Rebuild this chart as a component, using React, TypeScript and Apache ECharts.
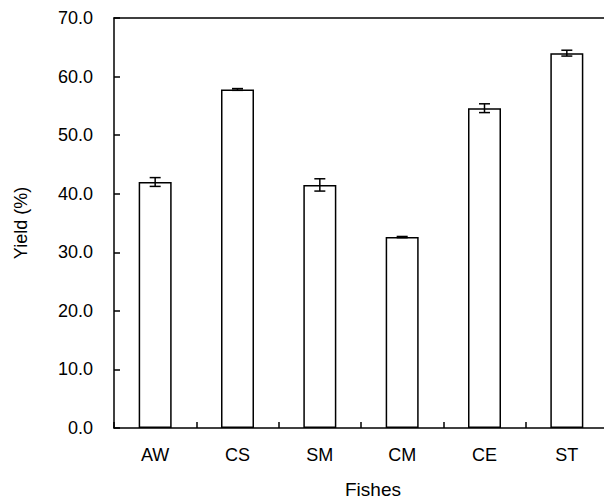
import React, { useEffect, useRef } from "react";
import * as echarts from "echarts";

const categories = ["AW", "CS", "SM", "CM", "CE", "ST"];
const yieldValues = [42.0, 57.8, 41.5, 32.6, 54.6, 64.0];
const yieldErrors = [0.75, 0.15, 1.05, 0.1, 0.75, 0.5];
const yTicks = { min: 0, max: 70, interval: 10 };

const FONT = "Liberation Sans, Arial, Helvetica, sans-serif";

export default function App() {
  const ref = useRef<HTMLDivElement>(null);
  useEffect(() => {
    if (!ref.current) return;
    document.body.style.margin = "0";
    document.body.style.overflow = "hidden";
    const chart = echarts.init(ref.current, null, { renderer: "svg" });
    const errData = categories.map((_, i) => [
      i,
      yieldValues[i] - yieldErrors[i],
      yieldValues[i] + yieldErrors[i],
    ]);
    chart.setOption({
      animation: false,
      backgroundColor: "#fff",
      grid: {
        left: 114,
        top: 18,
        width: 494,
        height: 414,
        show: false,
      },
      xAxis: [
        {
          type: "category",
          data: categories,
          boundaryGap: true,
          name: "Fishes",
          nameLocation: "middle",
          nameGap: 52,
          nameTextStyle: { fontFamily: FONT, fontSize: 19, color: "#000", padding: [0, 0, 0, 24] },
          axisLine: { lineStyle: { color: "#000", width: 1.5 } },
          axisTick: { show: true, inside: true, length: 6, lineStyle: { color: "#000", width: 1.5 } },
          axisLabel: { fontFamily: FONT, fontSize: 18, color: "#000", margin: 18 },
          splitLine: { show: false },
        },
        {
          type: "category",
          data: categories,
          position: "top",
          axisLine: { show: true, lineStyle: { color: "#000", width: 1.5 } },
          axisTick: { show: false },
          axisLabel: { show: false },
          splitLine: { show: false },
        },
      ],
      yAxis: {
        type: "value",
        min: yTicks.min,
        max: yTicks.max,
        interval: yTicks.interval,
        name: "Yield (%)",
        nameLocation: "middle",
        nameGap: 84,
        nameRotate: 90,
        nameTextStyle: { fontFamily: FONT, fontSize: 18, color: "#000" },
        axisLine: { show: true, lineStyle: { color: "#000", width: 1.5 } },
        axisTick: { show: true, inside: true, length: 6, lineStyle: { color: "#000", width: 1.5 } },
        axisLabel: {
          fontFamily: FONT,
          fontSize: 18,
          color: "#000",
          margin: 21,
          formatter: (v: number) => v.toFixed(1),
        },
        splitLine: { show: false },
      },
      series: [
        {
          type: "bar",
          data: yieldValues,
          barWidth: 33,
          itemStyle: { color: "#fff", borderColor: "#000", borderWidth: 1.5 },
          z: 2,
        },
        {
          type: "custom",
          data: errData,
          z: 3,
          renderItem: (_params: any, api: any) => {
            const x = api.value(0);
            const lo = api.coord([x, api.value(1)]);
            const hi = api.coord([x, api.value(2)]);
            const hw = 5.5;
            const style = { stroke: "#000", lineWidth: 1.5 };
            return {
              type: "group",
              children: [
                { type: "line", shape: { x1: lo[0], y1: lo[1], x2: hi[0], y2: hi[1] }, style },
                { type: "line", shape: { x1: lo[0] - hw, y1: lo[1], x2: lo[0] + hw, y2: lo[1] }, style },
                { type: "line", shape: { x1: hi[0] - hw, y1: hi[1], x2: hi[0] + hw, y2: hi[1] }, style },
              ],
            };
          },
        },
      ],
    });
    return () => chart.dispose();
  }, []);
  return (
    <div
      style={{
        position: "fixed",
        left: 0,
        top: 0,
        width: 604,
        height: 504,
        overflow: "hidden",
        background: "#fff",
      }}
    >
      <div ref={ref} style={{ width: 640, height: 504 }} />
    </div>
  );
}
